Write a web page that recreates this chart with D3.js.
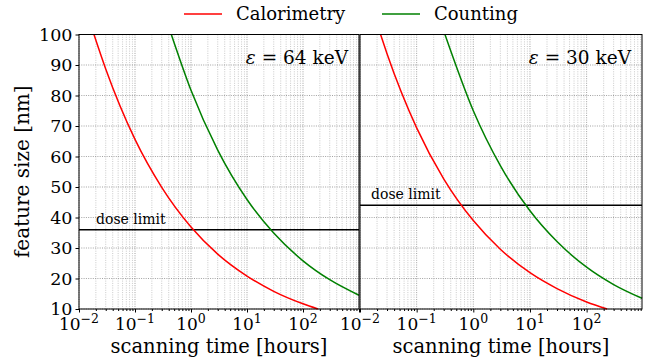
<!DOCTYPE html>
<html>
<head>
<meta charset="utf-8">
<script src="https://cdn.jsdelivr.net/npm/d3@7"></script>
<style>
  body { margin: 0; background: #fff; }
  svg text { font-family: "DejaVu Serif", "Liberation Serif", serif; fill: #000; }
</style>
</head>
<body>
<svg id="chart" width="654" height="364"></svg>
<script>
// values
const energies = ["64 keV", "30 keV"];
const doseLimits = [36, 44];
const xDomains = [[0.01, 1000], [0.01, 950]];
const yTicks = [10, 20, 30, 40, 50, 60, 70, 80, 90, 100];
const xMajor = [0.01, 0.1, 1, 10, 100, 1000];
const xLabels = ["-2", "-1", "0", "1", "2", "3"];

// time [hours], size [nm]
const cal64T = [0.0185, 0.03, 0.1, 0.3, 1, 3, 10, 30, 100, 185];
const cal64S = [100, 88.7, 65.6, 49.9, 36.9, 28.0, 20.8, 15.8, 11.7, 10];
const cnt64T = [0.445, 1, 3, 10, 30, 100, 300, 1000];
const cnt64S = [100, 81.7, 62.1, 45.9, 34.9, 25.8, 19.6, 14.5];
const cal30T = [0.0231, 0.03, 0.1, 0.3, 1, 3, 10, 30, 100, 231];
const cal30S = [100, 93.7, 69.4, 52.7, 39.0, 29.6, 21.9, 16.7, 12.3, 10];
const cnt30T = [0.316, 1, 3, 10, 30, 100, 300, 950];
const cnt30S = [100, 75.0, 57.0, 42.2, 32.1, 23.7, 18.0, 13.5];

const series = [
  [{t: cal64T, s: cal64S, color: "#ff0000"}, {t: cnt64T, s: cnt64S, color: "#008000"}],
  [{t: cal30T, s: cal30S, color: "#ff0000"}, {t: cnt30T, s: cnt30S, color: "#008000"}]
];

const svg = d3.select("#chart");
const plotTop = 34.5, plotBottom = 309;
const lefts = [79, 360], widths = [280, 282];
const serif = '"DejaVu Serif", "Liberation Serif", serif';

const y = d3.scaleLinear().domain([10, 100]).range([plotBottom, plotTop]);

function minorTicks(domain) {
  let out = [];
  for (let e = -2; e < 3; e++)
    for (let m = 2; m <= 9; m++) {
      let v = m * Math.pow(10, e);
      if (v > domain[0] && v < domain[1]) out.push(v);
    }
  return out;
}

for (let p = 0; p < 2; p++) {
  const x = d3.scaleLog().domain(xDomains[p]).range([lefts[p], lefts[p] + widths[p]]);
  const g = svg.append("g");
  const minors = minorTicks(xDomains[p]);
  const majors = xMajor.filter(v => v <= xDomains[p][1]);

  // grid
  g.append("g").selectAll("line").data(minors).enter().append("line")
    .attr("x1", d => x(d)).attr("x2", d => x(d))
    .attr("y1", plotTop).attr("y2", plotBottom)
    .attr("stroke", "#bdbdbd").attr("stroke-width", 0.8)
    .attr("stroke-dasharray", "1,1.3");
  g.append("g").selectAll("line").data(majors).enter().append("line")
    .attr("x1", d => x(d)).attr("x2", d => x(d))
    .attr("y1", plotTop).attr("y2", plotBottom)
    .attr("stroke", "#8a8a8a").attr("stroke-width", 0.8)
    .attr("stroke-dasharray", "1,1.3");
  g.append("g").selectAll("line").data(yTicks).enter().append("line")
    .attr("x1", lefts[p]).attr("x2", lefts[p] + widths[p])
    .attr("y1", d => y(d)).attr("y2", d => y(d))
    .attr("stroke", "#8a8a8a").attr("stroke-width", 0.8)
    .attr("stroke-dasharray", "1,1.3");

  // dose limit
  g.append("line")
    .attr("x1", lefts[p]).attr("x2", lefts[p] + widths[p])
    .attr("y1", y(doseLimits[p])).attr("y2", y(doseLimits[p]))
    .attr("stroke", "#000").attr("stroke-width", 1.5);
  g.append("text")
    .attr("x", lefts[p] + (p == 0 ? 17 : 11)).attr("y", y(doseLimits[p]) - 6)
    .attr("font-size", 14).text("dose limit");

  // curves
  const line = d3.line()
    .x(d => x(d[0])).y(d => y(d[1]))
    .curve(d3.curveMonotoneX);
  series[p].forEach(sr => {
    g.append("path")
      .datum(sr.t.map((t, i) => [t, sr.s[i]]))
      .attr("d", line)
      .attr("fill", "none")
      .attr("stroke", sr.color)
      .attr("stroke-width", 1.5);
  });

  // frame
  g.append("rect")
    .attr("x", lefts[p]).attr("y", plotTop)
    .attr("width", widths[p]).attr("height", plotBottom - plotTop)
    .attr("fill", "none").attr("stroke", "#000").attr("stroke-width", 1);

  // x axis
  const ax = g.append("g").attr("transform", `translate(0,${plotBottom})`)
    .call(d3.axisBottom(x).tickValues(majors).tickSize(3.5).tickFormat(""));
  ax.select(".domain").remove();
  g.append("g").attr("transform", `translate(0,${plotBottom})`)
    .call(d3.axisBottom(x).tickValues(minors).tickSize(2).tickFormat(""))
    .select(".domain").remove();

  majors.forEach((v, i) => {
    if (p == 0 && v == 1000) return;
    const t = g.append("text")
      .attr("x", x(v)).attr("y", plotBottom + 21)
      .attr("text-anchor", "middle").attr("font-size", 17);
    t.append("tspan").text("10");
    t.append("tspan").attr("dy", -7).attr("font-size", 12.5)
      .text(xLabels[i].replace("-", "\u2212"));
  });

  g.append("text")
    .attr("x", lefts[p] + widths[p] / 2).attr("y", 353)
    .attr("text-anchor", "middle").attr("font-size", 19.5)
    .text("scanning time [hours]");

  // energy label
  const et = g.append("text")
    .attr("x", lefts[p] + widths[p] - 11).attr("y", 64)
    .attr("text-anchor", "end").attr("font-size", 18.5);
  et.append("tspan").attr("font-style", "italic").text("\u03b5");
  et.append("tspan").text(" = " + energies[p]);
}

// y axis
const ay = svg.append("g").attr("transform", `translate(${lefts[0]},0)`)
  .call(d3.axisLeft(y).tickValues(yTicks).tickSize(3.5).tickPadding(3));
ay.attr("font-family", null);
ay.select(".domain").remove();
ay.selectAll("text").attr("font-size", 17.5);

svg.append("text")
  .attr("transform", `translate(29,${(plotTop + plotBottom) / 2}) rotate(-90)`)
  .attr("text-anchor", "middle").attr("font-size", 20)
  .text("feature size [nm]");

// legend
const legend = [["Calorimetry", "#ff0000", 184], ["Counting", "#008000", 382]];
legend.forEach(l => {
  svg.append("line").attr("x1", l[2]).attr("x2", l[2] + 38)
    .attr("y1", 14).attr("y2", 14)
    .attr("stroke", l[1]).attr("stroke-width", 1.5);
  svg.append("text").attr("x", l[2] + 52).attr("y", 20)
    .attr("font-size", 18).text(l[0]);
});

svg.selectAll("text").style("font-family", serif);
</script>
</body>
</html>
